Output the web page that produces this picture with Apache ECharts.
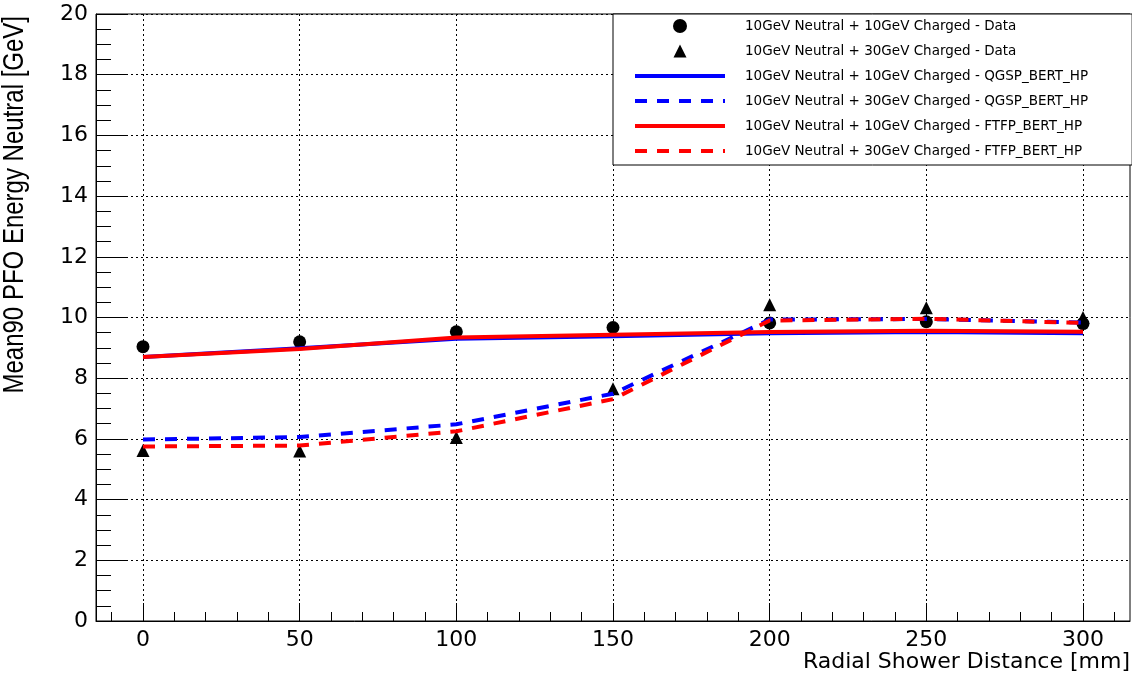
<!DOCTYPE html>
<html>
<head>
<meta charset="utf-8">
<script src="https://cdn.jsdelivr.net/npm/echarts@6/dist/echarts.min.js"></script>
<style>
html,body{margin:0;padding:0;background:#fff;}
#chart{width:1132px;height:678px;}
</style>
</head>
<body>
<div id="chart"></div>
<script>
// ---- data ----
const distances = [0, 50, 100, 150, 200, 250, 300];
const data10 = [9.04, 9.20, 9.53, 9.67, 9.82, 9.86, 9.80];
const data30 = [5.62, 5.60, 6.05, 7.65, 10.42, 10.32, 10.00];
const qgsp10 = [8.70, 8.99, 9.30, 9.38, 9.48, 9.52, 9.48];
const qgsp30 = [5.98, 6.06, 6.48, 7.49, 9.93, 9.95, 9.83];
const ftfp10 = [8.70, 8.96, 9.34, 9.43, 9.52, 9.56, 9.53];
const ftfp30 = [5.75, 5.78, 6.25, 7.31, 9.90, 9.96, 9.82];
const xMajorTicks = [0, 50, 100, 150, 200, 250, 300];
const xMinorTicks = [-10, 10, 20, 30, 40, 60, 70, 80, 90, 110, 120, 130, 140, 160, 170, 180, 190, 210, 220, 230, 240, 260, 270, 280, 290, 310];
const seriesNames = [
  '10GeV Neutral + 10GeV Charged - Data',
  '10GeV Neutral + 30GeV Charged - Data',
  '10GeV Neutral + 10GeV Charged - QGSP_BERT_HP',
  '10GeV Neutral + 30GeV Charged - QGSP_BERT_HP',
  '10GeV Neutral + 10GeV Charged - FTFP_BERT_HP',
  '10GeV Neutral + 30GeV Charged - FTFP_BERT_HP'
];
const xTitle = 'Radial Shower Distance [mm]';
const yTitle = 'Mean90 PFO Energy Neutral [GeV]';

const pairs = ys => distances.map((x, i) => [x, ys[i]]);
const FONT = 'DejaVu Sans';
const dash = [12, 10];
// triangle legend icon padded to the 90x14 legend item box so it keeps its aspect
const triangleIcon = 'path://M0,0L0,0M90,14L90,14M38.5,13.5L45,0.5L51.5,13.5Z';

function lineSeries(name, ys, color, dashed) {
  return {
    name: name, type: 'line', data: pairs(ys), symbol: 'none', showSymbol: false,
    lineStyle: { color: color, width: 4, type: dashed ? dash : 'solid' },
    itemStyle: { color: color },
    silent: true, animation: false
  };
}
function lineLegend(name, color, dashed) {
  return { name: name, itemStyle: { opacity: 0 }, lineStyle: { color: color, width: 4, type: dashed ? dash : 'solid' } };
}

const chart = echarts.init(document.getElementById('chart'), null, { renderer: 'canvas' });
chart.setOption({
  animation: false,
  backgroundColor: '#fff',
  grid: { left: 96, right: 2, top: 14, bottom: 57, show: true, borderColor: '#000', borderWidth: 1, containLabel: false },
  xAxis: [
    {
      type: 'value', min: -15, max: 315, position: 'bottom',
      axisLine: { show: true, onZero: false, lineStyle: { color: '#000', width: 1 } },
      axisTick: { show: true, inside: true, length: 18, customValues: xMajorTicks, lineStyle: { color: '#000', width: 1 } },
      axisLabel: { show: true, customValues: xMajorTicks, color: '#000', fontFamily: FONT, fontSize: 22, margin: 8 },
      splitLine: { show: true, lineStyle: { color: '#000', width: 1, type: [2, 3] } }
    },
    {
      type: 'value', min: -15, max: 315, position: 'bottom', gridIndex: 0,
      axisLine: { show: false, onZero: false },
      axisTick: { show: true, inside: true, length: 9, customValues: xMinorTicks, lineStyle: { color: '#000', width: 1 } },
      axisLabel: { show: false },
      splitLine: { show: false }
    }
  ],
  yAxis: {
    type: 'value', min: 0, max: 20, interval: 2, position: 'left',
    axisLine: { show: true, onZero: false, lineStyle: { color: '#000', width: 1 } },
    axisTick: { show: true, inside: true, length: 30, lineStyle: { color: '#000', width: 1 } },
    minorTick: { show: true, splitNumber: 4, length: 15, lineStyle: { color: '#000', width: 1 } },
    axisLabel: { color: '#000', fontFamily: FONT, fontSize: 22, margin: 8 },
    splitLine: { show: true, lineStyle: { color: '#000', width: 1, type: [2, 3] } }
  },
  legend: {
    show: true, orient: 'vertical', left: 613, top: 14,
    itemWidth: 90, itemHeight: 14, itemGap: 11,
    padding: [5, 44, 7, 20],
    backgroundColor: '#fff', borderColor: '#000', borderWidth: 1, borderRadius: 0,
    textStyle: { fontFamily: FONT, fontSize: 13.5, color: '#000', padding: [0, 0, 0, 15] },
    selectedMode: false,
    data: [
      { name: seriesNames[0], icon: 'circle', itemStyle: { color: '#000', opacity: 1 } },
      { name: seriesNames[1], icon: triangleIcon, itemStyle: { color: '#000', opacity: 1, borderWidth: 0 } },
      lineLegend(seriesNames[2], '#0000ff', false),
      lineLegend(seriesNames[3], '#0000ff', true),
      lineLegend(seriesNames[4], '#ff0000', false),
      lineLegend(seriesNames[5], '#ff0000', true)
    ]
  },
  graphic: [
    {
      type: 'text', right: 2, top: 651,
      style: { text: xTitle, fontFamily: FONT, fontSize: 22, fill: '#000' }
    },
    {
      type: 'text', x: 15, y: 16, rotation: Math.PI / 2, scaleY: 1.26,
      style: { text: yTitle, fontFamily: 'Liberation Sans', fontSize: 24, fill: '#000', textAlign: 'right', textVerticalAlign: 'middle' }
    }
  ],
  series: [
    { name: seriesNames[0], type: 'scatter', data: pairs(data10), symbol: 'circle', symbolSize: 13, itemStyle: { color: '#000', opacity: 1 }, silent: true },
    { name: seriesNames[1], type: 'scatter', data: pairs(data30), symbol: 'triangle', symbolSize: 13, itemStyle: { color: '#000', opacity: 1 }, silent: true },
    lineSeries(seriesNames[2], qgsp10, '#0000ff', false),
    lineSeries(seriesNames[3], qgsp30, '#0000ff', true),
    lineSeries(seriesNames[4], ftfp10, '#ff0000', false),
    lineSeries(seriesNames[5], ftfp30, '#ff0000', true)
  ]
});
</script>
</body>
</html>
